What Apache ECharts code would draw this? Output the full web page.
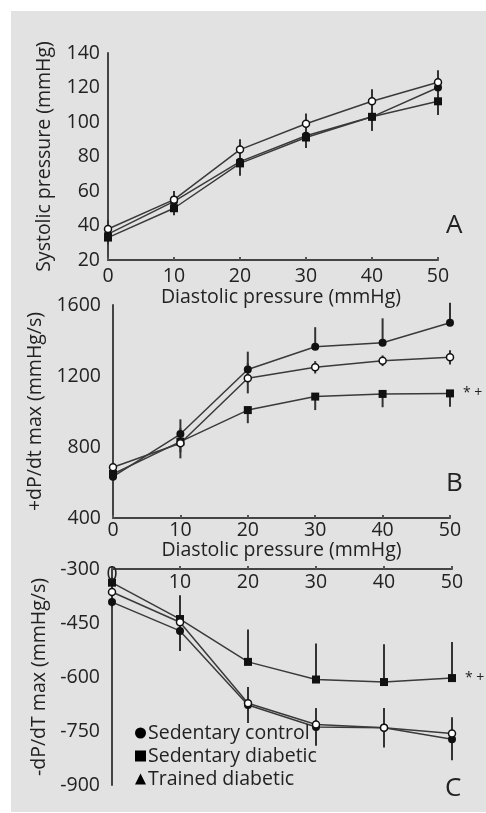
<!DOCTYPE html>
<html><head><meta charset="utf-8">
<script src="https://cdn.jsdelivr.net/npm/echarts@6/dist/echarts.min.js"></script>
<style>html,body{margin:0;padding:0;background:#fff}#c{width:486px;height:813px}</style>
</head><body><div id="c"></div>
<script>
const xVals = [0, 10, 20, 30, 40, 50];
const seriesNames = ['Sedentary control', 'Sedentary diabetic', 'Trained diabetic'];

// Panel A: systolic pressure (mmHg)
const sysControl = [35, 54, 77, 92, 103, 120];
const sysSedDiab = [33, 50, 76, 91, 103, 112];
const sysTrained = [38, 55, 84, 99, 112, 123];
const sysControlErr = [5, 5, 8, 7, 8, 6];
const sysSedDiabErr = [4, 4, 7, 6, 8, 8];
const sysTrainedErr = [5, 5, 6, 6, 7, 7];

// Panel B: +dP/dt max (mmHg/s)
const posControl = [633, 873, 1237, 1365, 1387, 1500];
const posSedDiab = [648, 830, 1008, 1084, 1099, 1102];
const posTrained = [686, 821, 1187, 1249, 1286, 1305];
const posControlErr = [30, 83, 100, 110, 138, 113];
const posSedDiabErr = [30, 60, 74, 76, 75, 75];
const posTrainedErr = [25, 85, 85, 35, 30, 40];

// Panel C: -dP/dT max (mmHg/s)
const negControl = [-392, -472, -678, -739, -741, -773];
const negSedDiab = [-338, -439, -558, -607, -614, -603];
const negTrained = [-364, -448, -673, -732, -741, -757];
const negControlErr = [15, 56, 50, 52, 55, 58];
const negSedDiabErr = [15, 66, 90, 100, 105, 100];
const negTrainedErr = [15, 30, 45, 45, 40, 45];

const sigMark = '* +';

const FONT = 'Open Sans';
const FS = 19.5;
const INK = '#222';
const LINE = '#3a3a3a';

const symbols = ['circle', 'rect', 'circle'];
const symFill = ['#111', '#111', '#fff'];
const symSize = [8, 8, 7];

function pts(vals, labelLast) {
  return xVals.map((x, i) => {
    const d = { value: [x, vals[i]] };
    if (labelLast && i === vals.length - 1) {
      d.label = { show: true, formatter: labelLast, position: 'right', distance: 9,
        fontSize: 14, color: INK, fontFamily: FONT };
    }
    return d;
  });
}
function errData(vals, errs, dir) {
  return xVals.map((x, i) => {
    const lo = dir === 'up' ? vals[i] : vals[i] - errs[i];
    const hi = dir === 'down' ? vals[i] : vals[i] + errs[i];
    return [x, lo, hi];
  });
}
function errSeries(idx, vals, errs, dir) {
  return {
    type: 'custom', xAxisIndex: idx, yAxisIndex: idx, silent: true, z: 1,
    data: errData(vals, errs, dir),
    renderItem: function (params, api) {
      const a = api.coord([api.value(0), api.value(1)]);
      const b = api.coord([api.value(0), api.value(2)]);
      return { type: 'line', shape: { x1: a[0], y1: a[1], x2: b[0], y2: b[1] },
        style: { stroke: '#333', lineWidth: 2 } };
    }
  };
}
function lineSeries(idx, k, vals, labelLast) {
  return {
    name: seriesNames[k], type: 'line', xAxisIndex: idx, yAxisIndex: idx, z: 3,
    data: pts(vals, labelLast),
    symbol: symbols[k], symbolSize: symSize[k], showAllSymbol: true,
    lineStyle: { color: LINE, width: 1.5 },
    itemStyle: { color: symFill[k], borderColor: '#111', borderWidth: k === 2 ? 1.5 : 0 }
  };
}

const axisLbl = { color: INK, fontSize: FS, fontFamily: FONT, formatter: v => String(v) };
const axisLine = { show: true, onZero: false, lineStyle: { color: '#444', width: 2 } };
const nameStyle = { color: INK, fontSize: FS, fontFamily: FONT };

function xAxis(idx, opts) {
  return Object.assign({
    type: 'value', gridIndex: idx, min: 0, max: 50, interval: 10,
    axisLine: axisLine, axisTick: { show: true, inside: true, length: 3, lineStyle: { color: '#555', width: 2 } },
    splitLine: { show: false },
    axisLabel: Object.assign({ margin: 6 }, axisLbl),
    name: 'Diastolic pressure (mmHg)', nameLocation: 'middle', nameTextStyle: nameStyle
  }, opts);
}
function yAxis(idx, opts) {
  return Object.assign({
    type: 'value', gridIndex: idx,
    axisLine: axisLine, axisTick: { show: false }, splitLine: { show: false },
    axisLabel: Object.assign({ margin: 8 }, axisLbl),
    nameLocation: 'middle', nameTextStyle: nameStyle
  }, opts);
}

const chart = echarts.init(document.getElementById('c'), null, { renderer: 'canvas' });
chart.setOption({
  animation: false,
  backgroundColor: '#fff',
  textStyle: { fontFamily: FONT },
  graphic: [
    { type: 'rect', shape: { x: 11, y: 11, width: 475, height: 801 }, style: { fill: '#e2e2e2' }, z: -10 },
    { type: 'text', left: 446, top: 213, style: { text: 'A', fontSize: 26, fill: INK, fontFamily: FONT } },
    { type: 'text', left: 446, top: 471, style: { text: 'B', fontSize: 26, fill: INK, fontFamily: FONT } },
    { type: 'text', left: 445, top: 776, style: { text: 'C', fontSize: 26, fill: INK, fontFamily: FONT } }
  ],
  grid: [
    { left: 108, right: 48, top: 53, bottom: 553 },
    { left: 113, right: 36, top: 305, bottom: 295 },
    { left: 112, right: 34, top: 569, bottom: 28 }
  ],
  xAxis: [
    xAxis(0, { nameGap: 27, axisLabel: Object.assign({ margin: 6 }, axisLbl),
      nameTextStyle: Object.assign({ padding: [0, 0, 0, 16] }, nameStyle) }),
    xAxis(1, { nameGap: 21, axisLabel: Object.assign({ margin: 2 }, axisLbl) }),
    xAxis(2, { position: 'top', name: '', z: 10,
      axisLabel: Object.assign({ margin: 13, inside: true, showMinLabel: true, hideOverlap: false, verticalAlign: 'middle' }, axisLbl,
        { formatter: v => v === 0 ? '{z|0}' : String(v),
          rich: { z: { fontSize: FS, color: INK, fontFamily: FONT, padding: [0, 0, 16, 0] } } }),
      axisTick: { show: true, inside: false, length: 3, lineStyle: { color: '#555', width: 2 } } })
  ],
  yAxis: [
    yAxis(0, { min: 20, max: 140, interval: 20, name: 'Systolic pressure (mmHg)', nameGap: 54 }),
    yAxis(1, { min: 400, max: 1600, interval: 400, name: '+dP/dt max (mmHg/s)', nameGap: 59,
      axisLabel: Object.assign({ margin: 12 }, axisLbl) }),
    yAxis(2, { min: -900, max: -300, interval: 150, name: '-dP/dT max (mmHg/s)', nameGap: 56,
      axisLabel: Object.assign({ margin: 12 }, axisLbl) })
  ],
  legend: {
    orient: 'vertical', left: 130, top: 718, itemGap: 3, itemWidth: 11, itemHeight: 11,
    textStyle: { color: INK, fontSize: FS, fontFamily: FONT, padding: [0, 0, 0, -3] },
    data: [
      { name: 'Sedentary control', icon: 'circle', itemStyle: { color: '#000', borderWidth: 0 } },
      { name: 'Sedentary diabetic', icon: 'rect', itemStyle: { color: '#000', borderWidth: 0 } },
      { name: 'Trained diabetic', icon: 'triangle', itemStyle: { color: '#000', borderWidth: 0 } }
    ]
  },
  series: [
    errSeries(0, sysControl, sysControlErr, 'both'),
    errSeries(0, sysSedDiab, sysSedDiabErr, 'both'),
    errSeries(0, sysTrained, sysTrainedErr, 'both'),
    lineSeries(0, 0, sysControl),
    lineSeries(0, 1, sysSedDiab),
    lineSeries(0, 2, sysTrained),

    errSeries(1, posControl, posControlErr, 'up'),
    errSeries(1, posSedDiab, posSedDiabErr, 'down'),
    errSeries(1, posTrained, posTrainedErr, 'both'),
    lineSeries(1, 0, posControl),
    lineSeries(1, 1, posSedDiab, sigMark),
    lineSeries(1, 2, posTrained),

    errSeries(2, negControl, negControlErr, 'both'),
    errSeries(2, negSedDiab, negSedDiabErr, 'up'),
    errSeries(2, negTrained, negTrainedErr, 'both'),
    lineSeries(2, 0, negControl),
    lineSeries(2, 1, negSedDiab, sigMark),
    lineSeries(2, 2, negTrained)
  ]
});
</script></body></html>
